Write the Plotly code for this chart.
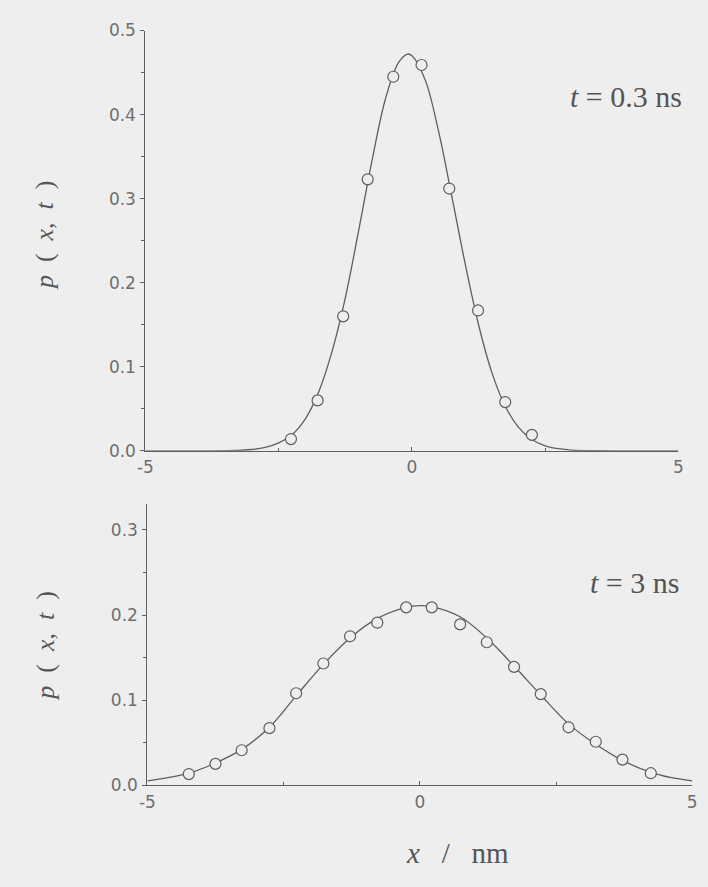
import plotly.graph_objects as go

# ---- data: t = 0.3 ns (top panel) ----
pts_top_x = [-2.27, -1.77, -1.29, -0.83, -0.35, 0.18, 0.70, 1.24, 1.75, 2.25]
pts_top_y = [0.014, 0.060, 0.160, 0.323, 0.445, 0.459, 0.312, 0.167, 0.058, 0.019]

curve_top_x = [-5, -4, -3.5, -3, -2.75, -2.5, -2.25, -2, -1.75, -1.5, -1.25, -1, -0.75,
               -0.5, -0.25, -0.08, 0, 0.25, 0.5, 0.75, 1, 1.25, 1.5, 1.75, 2, 2.25,
               2.5, 2.75, 3, 3.5, 4, 5]
curve_top_y = [0.0, 0.0, 0.0002, 0.0016, 0.0041, 0.0095, 0.0190, 0.0380, 0.0700, 0.118,
               0.182, 0.262, 0.345, 0.418, 0.462, 0.472, 0.470, 0.441, 0.380, 0.302,
               0.222, 0.150, 0.093, 0.053, 0.028, 0.0135, 0.0060, 0.0025, 0.0009,
               0.0001, 0.0, 0.0]

# ---- data: t = 3 ns (bottom panel) ----
pts_bot_x = [-4.24, -3.75, -3.27, -2.76, -2.27, -1.77, -1.28, -0.78, -0.25, 0.22,
             0.74, 1.23, 1.73, 2.22, 2.73, 3.23, 3.72, 4.24]
pts_bot_y = [0.013, 0.025, 0.041, 0.067, 0.108, 0.143, 0.175, 0.191, 0.209, 0.209,
             0.189, 0.168, 0.139, 0.107, 0.068, 0.051, 0.030, 0.014]

curve_bot_x = [-5, -4.6, -4.24, -3.75, -3.27, -2.76, -2.27, -1.77, -1.28, -0.78, -0.25,
               0, 0.22, 0.74, 1.23, 1.73, 2.22, 2.73, 3.23, 3.72, 4.24, 4.6, 5]
curve_bot_y = [0.005, 0.009, 0.014, 0.026, 0.042, 0.068, 0.105, 0.142, 0.173, 0.196,
               0.209, 0.211, 0.210, 0.198, 0.173, 0.140, 0.106, 0.072, 0.048, 0.029,
               0.015, 0.009, 0.005]

x_ticks = [-5, 0, 5]
y_ticks_top = [0.0, 0.1, 0.2, 0.3, 0.4, 0.5]
y_ticks_bot = [0.0, 0.1, 0.2, 0.3]

BG = "#eeeeee"
INK = "#5e5e5e"
TICKFONT = dict(family="DejaVu Sans", size=17, color="#6e6e6e")

fig = go.Figure()

def add_panel(cx, cy, px, py, xa, ya):
    fig.add_trace(go.Scatter(x=cx, y=cy, mode="lines", line_shape="spline",
                             line=dict(color=INK, width=1.3),
                             xaxis=xa, yaxis=ya, showlegend=False, hoverinfo="skip"))
    fig.add_trace(go.Scatter(x=px, y=py, mode="markers",
                             marker=dict(symbol="circle", size=11, color=BG,
                                         line=dict(color=INK, width=1.2)),
                             xaxis=xa, yaxis=ya, showlegend=False))

add_panel(curve_top_x, curve_top_y, pts_top_x, pts_top_y, "x", "y")
add_panel(curve_bot_x, curve_bot_y, pts_bot_x, pts_bot_y, "x2", "y2")

W, H = 708, 887

def xax(left, right, anchor):
    return dict(domain=[left / W, right / W], range=[-5, 5], anchor=anchor,
                tickvals=x_ticks, ticktext=["-5", "0", "5"],
                ticks="inside", ticklen=4, tickcolor=INK, tickwidth=1,
                minor=dict(tickvals=[-2.5, 2.5], ticks="inside", ticklen=3,
                           tickcolor=INK),
                showline=True, linecolor=INK, linewidth=1.2, mirror=False,
                showgrid=False, zeroline=False, tickfont=TICKFONT, ticklabelstandoff=1)

def yax(top_px, bot_px, rng, ticks, anchor):
    return dict(domain=[1 - bot_px / H, 1 - top_px / H], range=rng, anchor=anchor,
                tickvals=ticks, ticktext=[f"{v:.1f}" for v in ticks],
                ticks="outside", ticklen=4, tickcolor=INK, tickwidth=1,
                minor=dict(dtick=0.05, ticks="outside", ticklen=3, tickcolor=INK),
                showline=True, linecolor=INK, linewidth=1.2, mirror=False,
                showgrid=False, zeroline=False, tickfont=TICKFONT, ticklabelstandoff=1)

fig.update_layout(
    width=W, height=H,
    margin=dict(l=0, r=0, t=0, b=0),
    paper_bgcolor=BG, plot_bgcolor="rgba(0,0,0,0)",
    xaxis=xax(140, 683, "y"),
    yaxis=yax(21, 451, [0, 0.5], y_ticks_top, "x"),
    xaxis2=xax(142, 697, "y2"),
    yaxis2=yax(505, 793, [0, 0.331], y_ticks_bot, "x2"),
)

SERIF = "Liberation Serif"
SP = "&nbsp;"
ylab = f"<i>p</i>{SP*2}({SP*2}<i>x</i>,{SP*2}<i>t</i>{SP*2})"
for yc in [230, 650]:
    fig.add_annotation(x=38 / W, y=1 - yc / H, xref="paper", yref="paper",
                       text=ylab, textangle=-90, showarrow=False,
                       font=dict(family=SERIF, size=26, color="#555555"),
                       xanchor="center", yanchor="middle")

fig.add_annotation(x=630 / W, y=1 - 89 / H, xref="paper", yref="paper",
                   text=f"<i>t</i>{SP}={SP}0.3{SP}ns", showarrow=False,
                   font=dict(family=SERIF, size=30, color="#555555"),
                   xanchor="center", yanchor="middle")
fig.add_annotation(x=638 / W, y=1 - 586 / H, xref="paper", yref="paper",
                   text=f"<i>t</i>{SP}={SP}3{SP}ns", showarrow=False,
                   font=dict(family=SERIF, size=30, color="#555555"),
                   xanchor="center", yanchor="middle")
fig.add_annotation(x=458 / W, y=1 - 862 / H, xref="paper", yref="paper",
                   text=f"<i>x</i>{SP*3}/{SP*3}nm", showarrow=False,
                   font=dict(family=SERIF, size=29, color="#555555"),
                   xanchor="center", yanchor="middle")

fig.write_html("out.html")
